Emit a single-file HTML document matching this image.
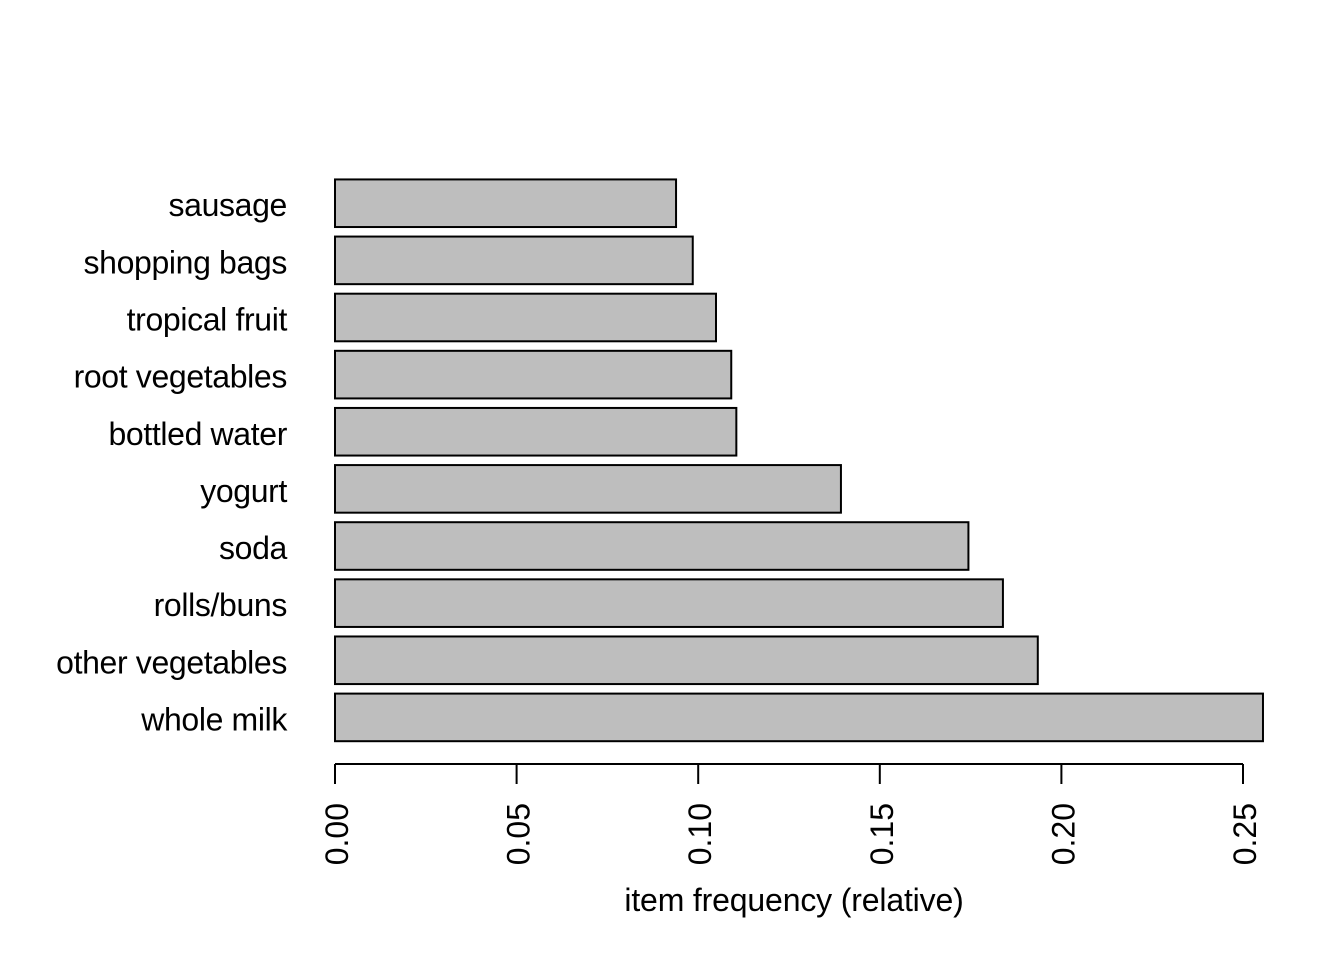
<!DOCTYPE html>
<html>
<head>
<meta charset="utf-8">
<style>
html,body{margin:0;padding:0;background:#fff;}
svg{display:block;}
text{font-family:"Liberation Sans",Arial,sans-serif;font-size:32px;fill:#000;}
.cat{letter-spacing:-0.36px;}
.ttl{letter-spacing:-0.16px;}
</style>
</head>
<body>
<svg id="chart" width="1344" height="960" viewBox="0 0 1344 960" xmlns="http://www.w3.org/2000/svg"></svg>
<script>
const categories = ["whole milk","other vegetables","rolls/buns","soda","yogurt","bottled water","root vegetables","tropical fruit","shopping bags","sausage"];
const frequencies = [0.2555,0.1935,0.1839,0.1744,0.1393,0.1105,0.1091,0.1049,0.0985,0.0939];
const tickValues = [0,0.05,0.10,0.15,0.20,0.25];
const tickLabels = ["0.00","0.05","0.10","0.15","0.20","0.25"];
const axisTitle = "item frequency (relative)";

const NS = "http://www.w3.org/2000/svg";
const svg = document.getElementById("chart");
const xScale = v => 335 + v * 3632;
const yBandTop = i => 693.6 - i * 57.13;
const bandHeight = 47.6;

function make(tag, attrs, parent){
  const el = document.createElementNS(NS, tag);
  for (const k in attrs) el.setAttribute(k, attrs[k]);
  parent.appendChild(el);
  return el;
}

categories.forEach((c, i) => {
  const top = yBandTop(i);
  const bar = make("rect", {x:xScale(0), y:top, width:xScale(frequencies[i])-xScale(0), height:bandHeight, fill:"#bebebe", stroke:"#000", "stroke-width":2}, svg);
  
  
  const label = make("text", {x:287, y:top + bandHeight/2 + 13, "text-anchor":"end", "class":"cat"}, svg);
  label.textContent = c;
  
  
});

const axis = make("line", {x1:xScale(tickValues[0]), x2:xScale(tickValues[tickValues.length-1]), y1:764, y2:764, stroke:"#000", "stroke-width":2}, svg);



tickValues.forEach((v, i) => {
  const x = xScale(v);
  const tick = make("line", {x1:x, x2:x, y1:764, y2:784, stroke:"#000", "stroke-width":2}, svg);
  
  
  const t = make("text", {transform:"translate(" + (x + 13) + ",803) rotate(-90)", "text-anchor":"end"}, svg);
  t.textContent = tickLabels[i];
  
  
});

const title = make("text", {x:794, y:911, "text-anchor":"middle", "class":"ttl"}, svg);
title.textContent = axisTitle;


</script>
</body>
</html>
